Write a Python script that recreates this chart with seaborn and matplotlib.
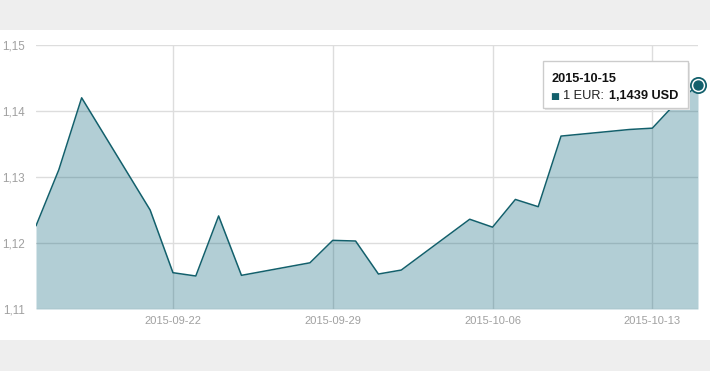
import matplotlib
matplotlib.use("Agg")
import matplotlib.pyplot as plt
from matplotlib.patches import Rectangle
import seaborn as sns
import pandas as pd

dates = ["2015-09-16", "2015-09-17", "2015-09-18", "2015-09-21", "2015-09-22",
         "2015-09-23", "2015-09-24", "2015-09-25", "2015-09-28", "2015-09-29",
         "2015-09-30", "2015-10-01", "2015-10-02", "2015-10-05", "2015-10-06",
         "2015-10-07", "2015-10-08", "2015-10-09", "2015-10-12", "2015-10-13",
         "2015-10-14", "2015-10-15"]
rates = [1.1226, 1.1311, 1.1420, 1.1250, 1.1155,
         1.1150, 1.1241, 1.1151, 1.1170, 1.1204,
         1.1203, 1.1153, 1.1159, 1.1236, 1.1224,
         1.1266, 1.1255, 1.1362, 1.1372, 1.1374,
         1.1411, 1.1439]
yticks = [1.11, 1.12, 1.13, 1.14, 1.15]
xtick_dates = ["2015-09-22", "2015-09-29", "2015-10-06", "2015-10-13"]

df = pd.DataFrame({"date": pd.to_datetime(dates), "rate": rates})

sns.set_theme(style="white")
plt.rcParams["font.family"] = ["Liberation Sans", "DejaVu Sans"]

W, H = 710, 371
fig = plt.figure(figsize=(W / 100, H / 100), dpi=100)
fig.patch.set_facecolor("white")

# grey bands top and bottom
fig.add_artist(Rectangle((0, 1 - 30 / H), 1, 30 / H, transform=fig.transFigure,
                         facecolor="#eeeeee", edgecolor="none", zorder=0))
fig.add_artist(Rectangle((0, 0), 1, 31 / H, transform=fig.transFigure,
                         facecolor="#eeeeee", edgecolor="none", zorder=0))

ax = fig.add_axes([36 / W, (H - 309) / H, (698 - 36) / W, (309 - 45) / H])
ax.set_facecolor("none")

line_color = "#13606c"
ax.fill_between(df["date"], df["rate"], 1.11, color="#025f76", alpha=0.3,
                linewidth=0, zorder=2)
sns.lineplot(data=df, x="date", y="rate", ax=ax, color=line_color, linewidth=1.1,
             zorder=3)

# last point marker
last = df.iloc[[-1]]
ax.scatter(last["date"], last["rate"], s=120, color="white", zorder=5,
           edgecolors=line_color, linewidths=1.3, clip_on=False)
ax.scatter(last["date"], last["rate"], s=42, color=line_color, zorder=6,
           clip_on=False)

ax.set_xlim(pd.Timestamp("2015-09-16"), pd.Timestamp("2015-10-15"))
ax.set_ylim(1.11, 1.15)
ax.set_yticks(yticks)
ax.set_yticklabels([f"{v:.2f}".replace(".", ",") for v in yticks])
ax.set_xticks(pd.to_datetime(xtick_dates))
ax.set_xticklabels(xtick_dates)
ax.grid(True, color="#dddddd", linewidth=1, zorder=1)
ax.set_axisbelow(True)
for s in ax.spines.values():
    s.set_visible(False)
ax.tick_params(axis="both", length=0, labelsize=8, colors="#a0a0a0")
ax.tick_params(axis="y", labelsize=8.4, pad=8)
ax.tick_params(axis="x", pad=5)
ax.set_xlabel("")
ax.set_ylabel("")

# tooltip
def fx(x):
    return x / W

def fy(y):
    return 1 - y / H

fig.add_artist(Rectangle((fx(545), fy(110)), (688 - 543) / W, (108 - 61) / H,
                         transform=fig.transFigure, facecolor="#e6e6e6",
                         edgecolor="none", zorder=8))
fig.add_artist(Rectangle((fx(543), fy(108)), (688 - 543) / W, (108 - 61) / H,
                         transform=fig.transFigure, facecolor="white",
                         edgecolor="#cccccc", linewidth=1, zorder=9))
fig.text(fx(551), fy(82), "2015-10-15", fontsize=9.2, fontweight="bold",
         color="#111111", ha="left", va="baseline", zorder=10)
fig.text(fx(550.5), fy(98.5), "■", fontsize=6.8, color=line_color,
         ha="left", va="baseline", zorder=10, family=["DejaVu Sans"])
fig.text(fx(563), fy(99), "1 EUR:", fontsize=9.2, color="#222222",
         ha="left", va="baseline", zorder=10)
fig.text(fx(678), fy(99), "1,1439 USD", fontsize=9.2, fontweight="bold",
         color="#111111", ha="right", va="baseline", zorder=10)

fig.savefig("out.png", dpi=100)
